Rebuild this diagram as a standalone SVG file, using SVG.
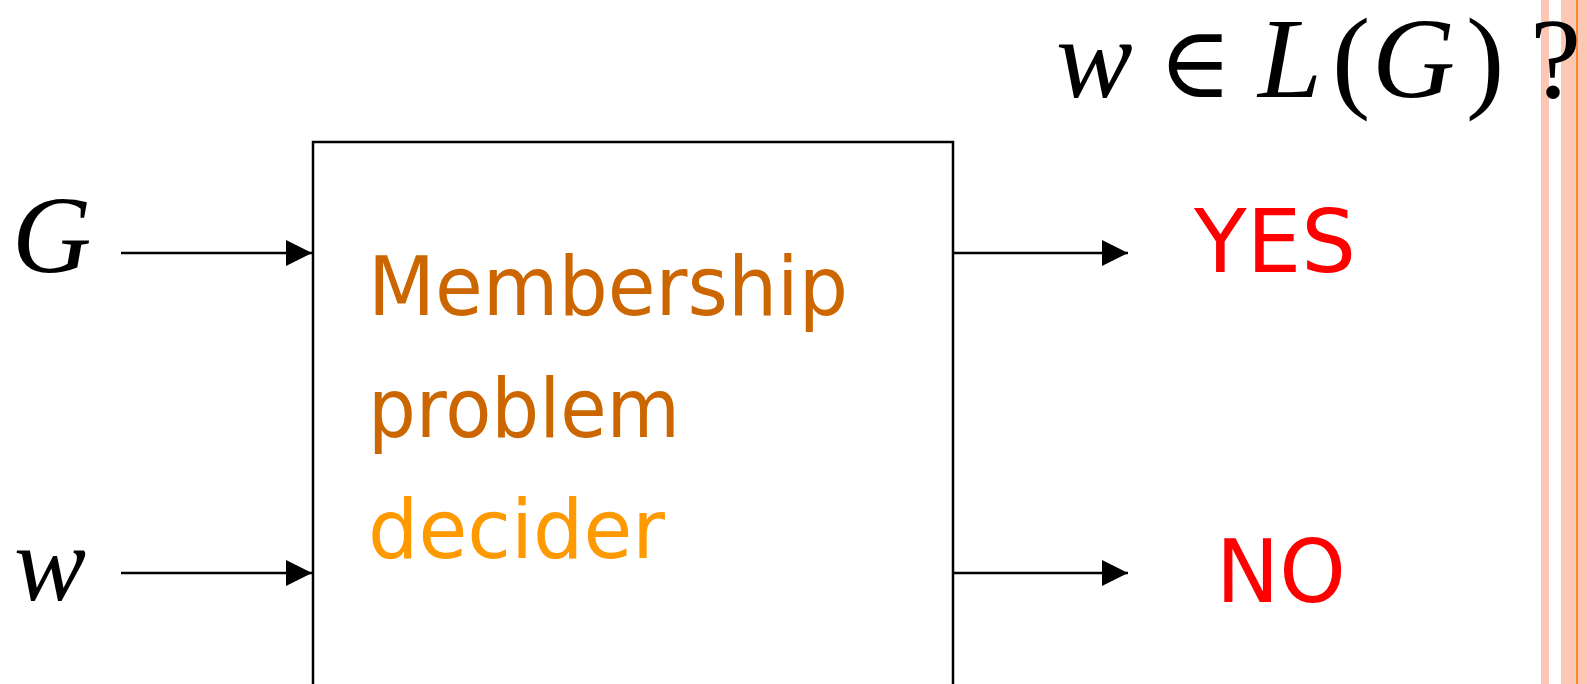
<svg xmlns="http://www.w3.org/2000/svg" width="1587" height="684" viewBox="0 0 1587 684">
  <style>
    .math { font-family: "Liberation Serif", "Times New Roman", serif; fill: #000; }
    .it { font-style: italic; }
    .sym { font-family: "DejaVu Serif", "DejaVu Sans", serif; }
    .hand { font-family: "DejaVu Sans", "Noto Sans", sans-serif; }
    .line { stroke: #000; stroke-width: 2.5; fill: none; }
  </style>
  <defs>
    <marker id="arrow" markerWidth="26" markerHeight="26" refX="26" refY="13" orient="auto" markerUnits="userSpaceOnUse">
      <path d="M0,0 L26,13 L0,26 Z" fill="#000"/>
    </marker>
  </defs>
  <rect width="1587" height="684" fill="#fff"/>

  <!-- side stripes -->
  <g id="stripes">
    <rect x="1541" y="0" width="8" height="684" fill="#FCC8B4"/>
    <rect x="1561" y="0" width="26" height="684" fill="#FCC8B4"/>
    <rect x="1576" y="0" width="2" height="684" fill="#FF8833"/>
  </g>

  <!-- question -->
  <g id="question">
    <text class="math" y="97" font-size="115"><tspan class="it" x="1056">w</tspan><tspan class="sym" x="1158" font-size="100">∈</tspan><tspan class="it" x="1258">L</tspan><tspan x="1332">(</tspan><tspan class="it" x="1372">G</tspan><tspan x="1466">)</tspan><tspan x="1530">?</tspan></text>
  </g>

  <!-- inputs -->
  <g id="input-G">
    <text class="math it" x="12" y="272" font-size="110">G</text>
  </g>
  <g id="input-w">
    <text class="math it" x="14" y="600" font-size="108">w</text>
  </g>

  <!-- decider box -->
  <g id="decider">
    <rect x="313" y="142" width="640" height="560" fill="none" stroke="#000" stroke-width="2.5"/>
    <text class="hand" x="368" y="315" font-size="82" fill="#CC6600" textLength="480" lengthAdjust="spacingAndGlyphs">Membership</text>
    <text class="hand" x="368" y="437" font-size="82" fill="#CC6600" textLength="312" lengthAdjust="spacingAndGlyphs">problem</text>
    <text class="hand" x="368" y="558" font-size="82" fill="#FF9900" textLength="297" lengthAdjust="spacingAndGlyphs">decider</text>
  </g>

  <!-- outputs -->
  <g id="output-yes">
    <text class="hand" x="1194" y="272" font-size="88" fill="#FF0000" textLength="162" lengthAdjust="spacingAndGlyphs">YES</text>
  </g>
  <g id="output-no">
    <text class="hand" x="1216" y="602" font-size="88" fill="#FF0000" textLength="130" lengthAdjust="spacingAndGlyphs">NO</text>
  </g>

  <!-- connectors -->
  <g id="connectors" class="line">
    <line x1="121" y1="253" x2="312" y2="253" marker-end="url(#arrow)"/>
    <line x1="121" y1="573" x2="312" y2="573" marker-end="url(#arrow)"/>
    <line x1="953" y1="253" x2="1128" y2="253" marker-end="url(#arrow)"/>
    <line x1="953" y1="573" x2="1128" y2="573" marker-end="url(#arrow)"/>
  </g>
</svg>
